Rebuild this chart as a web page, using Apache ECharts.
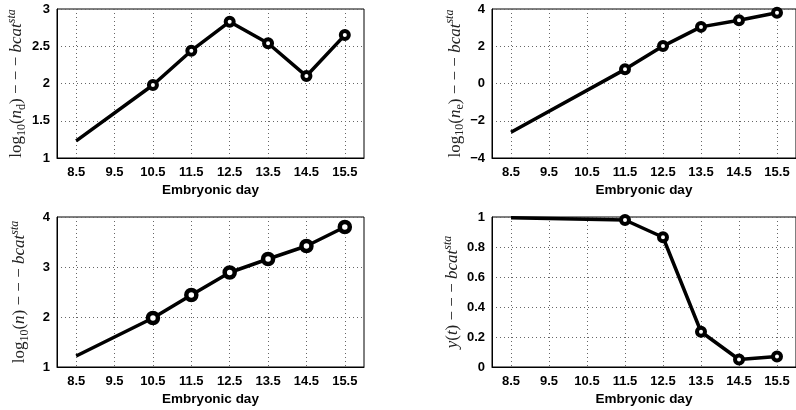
<!DOCTYPE html>
<html>
<head>
<meta charset="utf-8">
<script src="https://cdn.jsdelivr.net/npm/echarts@6/dist/echarts.min.js"></script>
<style>html,body{margin:0;padding:0;background:#fff}#c{width:796px;height:410px}</style>
</head>
<body>
<div id="c"></div>
<script>
// ---- data ----
const dayTicks = [8.5, 9.5, 10.5, 11.5, 12.5, 13.5, 14.5, 15.5];
const ndDays = [8.5, 10.5, 11.5, 12.5, 13.5, 14.5, 15.5];
const ndVals = [1.23, 1.98, 2.44, 2.83, 2.54, 2.10, 2.65];
const neDays = [8.5, 11.5, 12.5, 13.5, 14.5, 15.5];
const neVals = [-2.62, 0.76, 2.01, 3.04, 3.40, 3.80];
const nDays = [8.5, 10.5, 11.5, 12.5, 13.5, 14.5, 15.5];
const nVals = [1.22, 1.98, 2.44, 2.89, 3.16, 3.42, 3.80];
const yDays = [8.5, 11.5, 12.5, 13.5, 14.5, 15.5];
const yVals = [0.995, 0.98, 0.865, 0.235, 0.05, 0.07];
const xTitle = 'Embryonic day';
const yNames = [
  '{r|log}{sub|10}{r|(}{i|n}{sub|d}{r|) − − − }{i|bcat}{sup|sta}',
  '{r|log}{sub|10}{r|(}{i|n}{sub|e}{r|) − − − }{i|bcat}{sup|sta}',
  '{r|log}{sub|10}{r|(}{i|n}{r|) − − − }{i|bcat}{sup|sta}',
  '{i|y}{r|(}{i|t}{r|) − − − }{i|bcat}{sup|sta}'
];
const yRanges = [[1, 3, 0.5], [-4, 4, 2], [1, 4, 1], [0, 1, 0.2]];

const grids = [
  {left: 57, top: 9, width: 307, height: 149},
  {left: 492, top: 9, width: 308, height: 149},
  {left: 57, top: 217, width: 307, height: 150},
  {left: 492, top: 217, width: 308, height: 150}
];
const nameGaps = [26, 22, 26, 28];
const markerSizes = [8, 8, 10, 8];
const markerBorders = [4, 4, 4.5, 4];
const seriesDays = [ndDays, neDays, nDays, yDays];
const seriesVals = [ndVals, neVals, nVals, yVals];

const tickFont = {fontFamily: 'Liberation Sans', fontWeight: 'bold', fontSize: 13, color: '#000'};
const dotted = {color: '#666', width: 1, type: [1, 3]};
const base = {fontFamily: 'Liberation Serif', color: '#222'};
const rich = {
  r: Object.assign({fontSize: 17, lineHeight: 22}, base),
  i: Object.assign({fontStyle: 'italic', fontSize: 17, lineHeight: 22}, base),
  sub: Object.assign({fontSize: 12, lineHeight: 12, verticalAlign: 'bottom'}, base),
  sup: Object.assign({fontStyle: 'italic', fontSize: 12, lineHeight: 12, verticalAlign: 'top'}, base)
};

const option = {
  animation: false,
  backgroundColor: '#fff',
  grid: grids.map(g => Object.assign({show: true, borderColor: '#000', borderWidth: 1, backgroundColor: 'transparent'}, g)),
  xAxis: grids.map((g, i) => ({
    type: 'value', gridIndex: i, min: 8, max: 16,
    name: xTitle, nameLocation: 'middle', nameGap: 25,
    nameTextStyle: Object.assign({}, tickFont, {fontSize: 13.5}),
    axisLine: {show: true, onZero: false, lineStyle: {color: '#000'}},
    axisTick: {show: false, customValues: dayTicks},
    axisLabel: Object.assign({margin: 8, customValues: dayTicks, formatter: v => v.toFixed(1)}, tickFont),
    splitLine: {show: true, lineStyle: dotted}
  })),
  yAxis: yRanges.map((r, i) => ({
    type: 'value', gridIndex: i, min: r[0], max: r[1], interval: r[2],
    name: yNames[i], nameLocation: 'middle', nameRotate: 90, nameGap: nameGaps[i],
    nameTextStyle: {rich: rich},
    axisLine: {show: true, onZero: false, lineStyle: {color: '#000'}},
    axisTick: {show: false},
    axisLabel: Object.assign({margin: 7, formatter: v => String(Math.round(v * 10) / 10).replace('-', '−')}, tickFont),
    splitLine: {show: true, lineStyle: dotted}
  })),
  series: seriesDays.map((days, i) => ({
    type: 'line', xAxisIndex: i, yAxisIndex: i,
    data: days.map((d, k) => k === 0 ? {value: [d, seriesVals[i][k]], symbol: 'none'} : [d, seriesVals[i][k]]),
    symbol: 'circle', symbolSize: markerSizes[i],
    lineStyle: {color: '#000', width: 3.5},
    itemStyle: {color: '#fff', borderColor: '#000', borderWidth: markerBorders[i]},
    z: 5
  }))
};
echarts.init(document.getElementById('c'), null, {renderer: 'canvas'}).setOption(option);
</script>
</body>
</html>
